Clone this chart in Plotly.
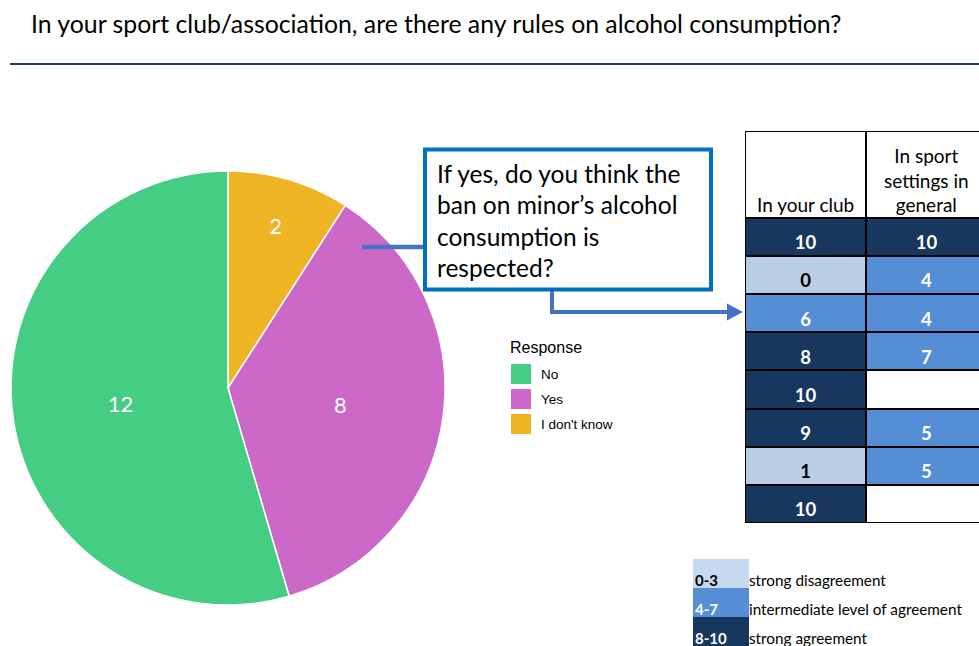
import plotly.graph_objects as go

W, H = 979, 646

# Pie data: answers to the alcohol-rules question
responses = ["No", "Yes", "I don't know"]
counts = [12, 8, 2]
response_colors = ["#45CE83", "#CC69C8", "#EEB424"]

# Agreement scores (0-10) for the follow-up question
table_columns = ["In your club", "In sport<br>settings in<br>general"]
club_scores = [10, 0, 6, 8, 10, 9, 1, 10]
general_scores = [10, 4, 4, 7, None, 5, 5, None]

# Score bands
band_labels = ["0-3", "4-7", "8-10"]
band_texts = ["strong disagreement", "intermediate level of agreement", "strong agreement"]
band_colors = ["#B9CDE5", "#558ED5", "#17375E"]
band_swatch_colors = ["#C6D9F1", "#558ED5", "#17375E"]

TITLE = "In your sport club/association, are there any rules on alcohol consumption?"
QUESTION_LINES = ["If yes, do you think the", "ban on minor\u2019s alcohol",
                  "consumption is", "respected?"]


def px(x):
    return x / W


def py(y):
    return 1 - y / H


def band(v):
    if v is None:
        return 0
    if v <= 3:
        return 1
    if v <= 7:
        return 2
    return 3


fig = go.Figure()

# ---- pie: slices run clockwise from 12 o'clock, last response first ----
fig.add_trace(go.Pie(
    labels=responses[::-1], values=counts[::-1], sort=False, direction="clockwise",
    marker=dict(colors=response_colors[::-1], line=dict(color="white", width=1.5)),
    textinfo="value", textposition="inside", insidetextorientation="horizontal",
    textfont=dict(family="Lato", size=22, color="white"),
    domain=dict(x=[px(11), px(445)], y=[py(605), py(171)]),
    showlegend=False, hoverinfo="label+value",
))

# ---- score table as a heatmap (header row + 8 answer rows) ----
header_h = 2.28
y_edges = [-header_h] + list(range(len(club_scores) + 1))
z = [[0, 0]] + [[band(a), band(b)] for a, b in zip(club_scores, general_scores)]
cscale = [[0, "white"], [0.25, "white"],
          [0.25, band_colors[0]], [0.5, band_colors[0]],
          [0.5, band_colors[1]], [0.75, band_colors[1]],
          [0.75, band_colors[2]], [1, band_colors[2]]]
fig.add_trace(go.Heatmap(
    z=z, x=[0, 1], y=y_edges, zmin=0, zmax=3, colorscale=cscale,
    showscale=False, xgap=2, ygap=2, hoverinfo="skip",
))

# cell numbers: dark text on light cells, white text elsewhere
for dark in (True, False):
    xs, ys, ts = [], [], []
    for col, scores in enumerate([club_scores, general_scores]):
        for row, v in enumerate(scores):
            if v is None:
                continue
            if (band(v) == 1) == dark:
                xs.append(col)
                ys.append(row + 0.7)
                ts.append(f"<b>{v}</b>")
    fig.add_trace(go.Scatter(
        x=xs, y=ys, text=ts, mode="text", textposition="middle center",
        textfont=dict(family="Lato", size=18.5, color="black" if dark else "white"),
        showlegend=False, hoverinfo="skip", cliponaxis=False,
    ))

annotations = []
shapes = []

# column headers
for col, name in enumerate(table_columns):
    annotations.append(dict(
        x=col, y=0, xref="x", yref="y", text=name, showarrow=False,
        xanchor="center", yanchor="bottom", yshift=0, align="center",
        font=dict(family="Lato", size=19, color="black"),
    ))

# title and rule
annotations.append(dict(
    x=px(29), y=py(24), xref="paper", yref="paper", text=TITLE, showarrow=False,
    xanchor="left", yanchor="middle", font=dict(family="Lato", size=24.8, color="black"),
))
shapes.append(dict(type="line", xref="paper", yref="paper",
                   x0=px(10), x1=1.0, y0=py(64), y1=py(64),
                   line=dict(color="#1F3864", width=2)))

# response legend
annotations.append(dict(
    x=px(508), y=py(347), xref="paper", yref="paper", text="Response", showarrow=False,
    xanchor="left", yanchor="middle", font=dict(family="Liberation Sans", size=16, color="black"),
))
for i, (lab, colr) in enumerate(zip(responses, response_colors)):
    top = 364 + 25 * i
    shapes.append(dict(type="rect", xref="paper", yref="paper",
                       x0=px(511), x1=px(531), y0=py(top + 20), y1=py(top),
                       fillcolor=colr, line=dict(width=0)))
    annotations.append(dict(
        x=px(539), y=py(top + 10), xref="paper", yref="paper", text=lab, showarrow=False,
        xanchor="left", yanchor="middle", font=dict(family="Liberation Sans", size=13.5, color="black"),
    ))

# question callout box
shapes.append(dict(type="line", xref="paper", yref="paper",
                   x0=px(362), x1=px(425), y0=py(247), y1=py(247),
                   line=dict(color="#4472C4", width=4.5)))
shapes.append(dict(type="path", xref="paper", yref="paper",
                   path=f"M {px(552)},{py(291)} L {px(552)},{py(312)} L {px(729)},{py(312)}",
                   line=dict(color="#4472C4", width=4)))
shapes.append(dict(type="path", xref="paper", yref="paper",
                   path=f"M {px(727)},{py(303.5)} L {px(743)},{py(312)} L {px(727)},{py(320.5)} Z",
                   fillcolor="#4472C4", line=dict(width=0)))
shapes.append(dict(type="rect", xref="paper", yref="paper",
                   x0=px(425), x1=px(711), y0=py(289.5), y1=py(149.5),
                   fillcolor="white", line=dict(color="#0070C0", width=4)))
for i, line in enumerate(QUESTION_LINES):
    annotations.append(dict(
        x=px(435), y=py(173 + 31.6 * i), xref="paper", yref="paper", text=line,
        showarrow=False, xanchor="left", yanchor="middle",
        font=dict(family="Lato", size=24.5, color="black"),
    ))

# score band key
for i, (lab, txt, colr) in enumerate(zip(band_labels, band_texts, band_swatch_colors)):
    top = 559 + 29 * i
    shapes.append(dict(type="rect", xref="paper", yref="paper",
                       x0=px(693), x1=px(749), y0=py(top + 29), y1=py(top),
                       fillcolor=colr, line=dict(width=0)))
    annotations.append(dict(
        x=px(693), y=py(top + 21), xref="paper", yref="paper", text=f"<b>{lab}</b>",
        showarrow=False, xanchor="left", yanchor="middle",
        font=dict(family="Lato", size=15, color="black" if i == 0 else "white"),
    ))
    annotations.append(dict(
        x=px(747), y=py(top + 21), xref="paper", yref="paper", text=txt,
        showarrow=False, xanchor="left", yanchor="middle",
        font=dict(family="Lato", size=15.3, color="black"),
    ))

fig.update_layout(
    width=W, height=H, margin=dict(l=0, r=0, t=0, b=0),
    paper_bgcolor="white", plot_bgcolor="black",
    xaxis=dict(domain=[px(745), 1.0], range=[-0.5, 1.434], visible=False, fixedrange=True),
    yaxis=dict(domain=[py(523), py(131)], range=[len(club_scores), -header_h],
               visible=False, fixedrange=True),
    shapes=shapes, annotations=annotations, showlegend=False,
)

fig.write_html("out.html")
